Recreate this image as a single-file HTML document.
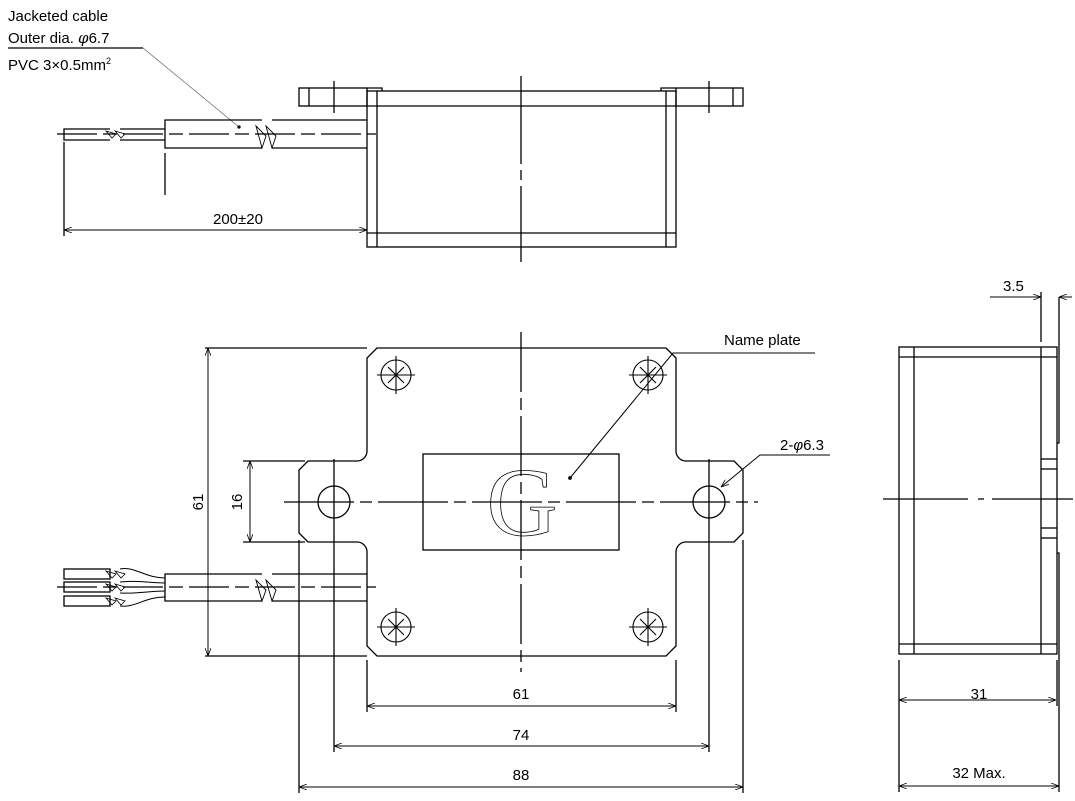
<!DOCTYPE html>
<html><head><meta charset="utf-8"><style>
html,body{margin:0;padding:0;background:#fff;}
svg{display:block;}
text{font-family:"Liberation Sans",Arial,sans-serif;font-size:15px;fill:#000;}
</style></head><body>
<svg width="1075" height="801" viewBox="0 0 1075 801" xmlns="http://www.w3.org/2000/svg">
<defs>
<marker id="a" markerWidth="8" markerHeight="6" refX="8" refY="3" orient="auto-start-reverse" markerUnits="userSpaceOnUse">
<path d="M0,0 L8,3 L0,6" fill="none" stroke="#000" stroke-width="0.8"/></marker>
</defs>
<g fill="none" stroke="#000" stroke-width="1.3">
<line x1="8" y1="48" x2="143" y2="48"/>
<line x1="143" y1="48" x2="239" y2="127" stroke-width="0.6" stroke="#555"/>
<circle cx="239" cy="127" r="1" fill="#000"/>

<rect x="367" y="91" width="309" height="156"/>
<line x1="377" y1="91" x2="377" y2="247"/>
<line x1="666" y1="91" x2="666" y2="247"/>
<line x1="367" y1="106" x2="676" y2="106"/>
<line x1="367" y1="233" x2="676" y2="233"/>
<rect x="299" y="88" width="68" height="18"/>
<line x1="309" y1="88" x2="309" y2="106"/>
<polyline points="367,88 382,88 382,91"/>
<rect x="676" y="88" width="67" height="18"/>
<line x1="733" y1="88" x2="733" y2="106"/>
<polyline points="676,88 661,88 661,91"/>
<line x1="334" y1="81" x2="334" y2="113"/>
<line x1="709" y1="81" x2="709" y2="113"/>
<line x1="521" y1="76" x2="521" y2="262" stroke-dasharray="88,6,10,6"/>
<polyline points="367,120 272,120"/>
<polyline points="367,148 272,148"/>
<polyline points="262,120 165,120 165,148 262,148"/>
<path d="M256,126 L262,148 L266,136 Z M266,126 L272,148 L276,136 Z" stroke-width="0.9"/>
<polyline points="165,129 120,129"/>
<polyline points="165,140 120,140"/>
<polyline points="110,129 64,129 64,140 110,140"/>
<path d="M106,131 L112,138 L116,134 Z M115,131 L121,138 L125,134 Z" stroke-width="0.8"/>
<line x1="57" y1="134" x2="376" y2="134" stroke-dasharray="40,6,14,6"/>
<line x1="64" y1="142" x2="64" y2="236"/>
<line x1="165" y1="153" x2="165" y2="195"/>
<line x1="64" y1="230" x2="367" y2="230" stroke-width="1" marker-start="url(#a)" marker-end="url(#a)"/>

<path d="M377,348 L666,348 L676,358 L676,451 A10,10 0 0 0 686,461 L734,461 L743,470 L743,533 L734,542 L686,542 A10,10 0 0 0 676,552 L676,646 L666,656 L377,656 L367,646 L367,552 A10,10 0 0 0 357,542 L308,542 L299,533 L299,470 L308,461 L357,461 A10,10 0 0 0 367,451 L367,358 Z"/>
<rect x="423" y="454" width="196" height="96"/>
<circle cx="334" cy="502" r="16"/>
<circle cx="709" cy="502" r="16"/>
<line x1="334" y1="459" x2="334" y2="545"/>
<line x1="709" y1="459" x2="709" y2="545"/>
<line x1="284" y1="502" x2="758" y2="502" stroke-dasharray="70,6,12,6"/>
<line x1="521" y1="332" x2="521" y2="672" stroke-dasharray="60,6,12,6"/>
<g stroke-width="1.1">
<circle cx="396" cy="375" r="15"/><line x1="377" y1="375" x2="415" y2="375"/><line x1="396" y1="356" x2="396" y2="394"/><line x1="388" y1="367" x2="404" y2="383"/><line x1="404" y1="367" x2="388" y2="383"/>
<circle cx="648" cy="375" r="15"/><line x1="629" y1="375" x2="667" y2="375"/><line x1="648" y1="356" x2="648" y2="394"/><line x1="640" y1="367" x2="656" y2="383"/><line x1="656" y1="367" x2="640" y2="383"/>
<circle cx="396" cy="627" r="15"/><line x1="377" y1="627" x2="415" y2="627"/><line x1="396" y1="608" x2="396" y2="646"/><line x1="388" y1="619" x2="404" y2="635"/><line x1="404" y1="619" x2="388" y2="635"/>
<circle cx="648" cy="627" r="15"/><line x1="629" y1="627" x2="667" y2="627"/><line x1="648" y1="608" x2="648" y2="646"/><line x1="640" y1="619" x2="656" y2="635"/><line x1="656" y1="619" x2="640" y2="635"/>
</g>
<polyline points="367,574 272,574"/>
<polyline points="367,601 272,601"/>
<polyline points="262,574 165,574 165,601 262,601"/>
<path d="M256,580 L262,601 L266,590 Z M266,580 L272,601 L276,590 Z" stroke-width="0.9"/>
<rect x="64" y="569" width="46" height="10"/>
<rect x="64" y="582" width="46" height="10"/>
<rect x="64" y="596" width="46" height="10"/>
<path d="M120,569 C135,566 145,578 165,578 M120,582 C135,580 150,583 165,583 M120,593 C135,594 150,591 165,591 M120,606 C135,608 145,597 165,597" stroke-width="1"/>
<path d="M106,571 L112,578 L116,574 Z M115,571 L121,578 L125,574 Z M106,584 L112,591 L116,587 Z M115,584 L121,591 L125,587 Z M106,598 L112,605 L116,601 Z M115,598 L121,605 L125,601 Z" stroke-width="0.8"/>
<line x1="57" y1="587" x2="376" y2="587" stroke-dasharray="40,6,14,6"/>
<line x1="205" y1="348" x2="367" y2="348"/>
<line x1="205" y1="656" x2="367" y2="656"/>
<line x1="208" y1="348" x2="208" y2="656" stroke-width="1" marker-start="url(#a)" marker-end="url(#a)"/>
<line x1="243" y1="461" x2="305" y2="461"/>
<line x1="243" y1="542" x2="305" y2="542"/>
<line x1="250" y1="461" x2="250" y2="542" stroke-width="1" marker-start="url(#a)" marker-end="url(#a)"/>
<line x1="367" y1="660" x2="367" y2="712"/>
<line x1="676" y1="660" x2="676" y2="712"/>
<line x1="334" y1="545" x2="334" y2="752"/>
<line x1="709" y1="545" x2="709" y2="752"/>
<line x1="299" y1="540" x2="299" y2="793"/>
<line x1="743" y1="540" x2="743" y2="793"/>
<line x1="367" y1="706" x2="676" y2="706" stroke-width="1" marker-start="url(#a)" marker-end="url(#a)"/>
<line x1="334" y1="746" x2="709" y2="746" stroke-width="1" marker-start="url(#a)" marker-end="url(#a)"/>
<line x1="299" y1="787" x2="743" y2="787" stroke-width="1" marker-start="url(#a)" marker-end="url(#a)"/>
<polyline points="570,478 673,353 815,353" stroke-width="1"/>
<circle cx="570" cy="478" r="1.2" fill="#000"/>
<polyline points="830,455 760,455 721,487" stroke-width="1" marker-end="url(#a)"/>

<rect x="899" y="347" width="158" height="307"/>
<line x1="914" y1="347" x2="914" y2="654"/>
<line x1="1041" y1="347" x2="1041" y2="654"/>
<line x1="899" y1="357" x2="1057" y2="357"/>
<line x1="899" y1="644" x2="1057" y2="644"/>
<polyline points="1059,297 1059,443 1057,443"/>
<polyline points="1057,553 1059,553 1059,792"/>
<line x1="1041" y1="459" x2="1057" y2="459"/>
<line x1="1041" y1="469" x2="1057" y2="469"/>
<line x1="1041" y1="528" x2="1057" y2="528"/>
<line x1="1041" y1="538" x2="1057" y2="538"/>
<line x1="883" y1="499" x2="1073" y2="499" stroke-dasharray="85,10,6,8"/>
<line x1="1041" y1="292" x2="1041" y2="342"/>
<line x1="990" y1="297" x2="1041" y2="297" stroke-width="1" marker-end="url(#a)"/>
<line x1="1072" y1="297" x2="1059" y2="297" stroke-width="1" marker-end="url(#a)"/>
<line x1="899" y1="660" x2="899" y2="792"/>
<line x1="1057" y1="660" x2="1057" y2="706"/>
<line x1="899" y1="700" x2="1056" y2="700" stroke-width="1" marker-start="url(#a)" marker-end="url(#a)"/>
<line x1="899" y1="786" x2="1059" y2="786" stroke-width="1" marker-start="url(#a)" marker-end="url(#a)"/>
</g>
<text x="522" y="535" text-anchor="middle" style="font-family:'Liberation Serif',serif;font-size:98px;fill:none;stroke:#000;stroke-width:0.8">G</text>
<text x="8" y="21">Jacketed cable</text>
<text x="8" y="43">Outer dia. <tspan font-style="italic" font-family="'DejaVu Serif',serif">φ</tspan>6.7</text>
<text x="8" y="70">PVC 3×0.5mm<tspan font-size="9" dy="-6">2</tspan></text>
<text x="213" y="224">200±20</text>
<text x="724" y="345">Name plate</text>
<text x="780" y="450">2-<tspan font-style="italic">φ</tspan>6.3</text>
<text x="203" y="502" text-anchor="middle" transform="rotate(-90 203 502)">61</text>
<text x="242" y="502" text-anchor="middle" transform="rotate(-90 242 502)">16</text>
<text x="521" y="699" text-anchor="middle">61</text>
<text x="521" y="740" text-anchor="middle">74</text>
<text x="521" y="780" text-anchor="middle">88</text>
<text x="1003" y="291">3.5</text>
<text x="979" y="699" text-anchor="middle">31</text>
<text x="979" y="778" text-anchor="middle">32 Max.</text>
</svg>
</body></html>
